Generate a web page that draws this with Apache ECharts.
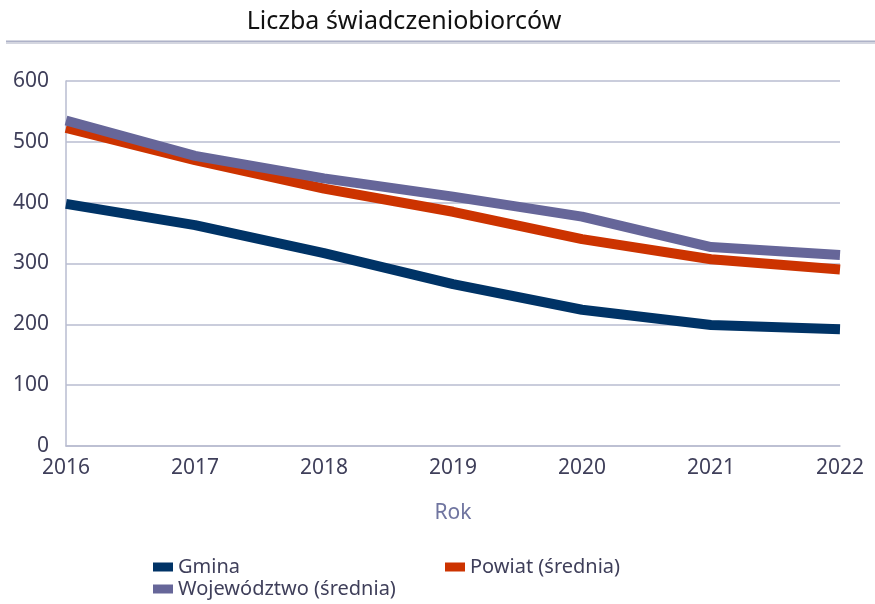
<!DOCTYPE html>
<html>
<head>
<meta charset="utf-8">
<script src="https://cdn.jsdelivr.net/npm/echarts@6/dist/echarts.min.js"></script>
<style>
  html, body { margin: 0; padding: 0; background: #fff; }
  #main { width: 875px; height: 604px; }
</style>
</head>
<body>
<div id="main"></div>
<script>
// dane
var years = ['2016', '2017', '2018', '2019', '2020', '2021', '2022']
var gmina = [398, 363, 317, 266, 224, 199, 192]
var powiat = [523, 470, 423, 385, 340, 307, 290]
var wojewodztwo = [535, 477, 440, 410, 377, 327, 314]

var fontFam = '"Noto Sans", sans-serif'
var textCol = '#3f3f5a'
var gridCol = '#b9bcd0'

var myChart = echarts.init(document.getElementById('main'))

function lineSeries (name, data, color) {
  return {
    name: name,
    type: 'line',
    data: data,
    symbol: 'none',
    smooth: false,
    lineStyle: { width: 10, color: color, cap: 'butt', join: 'round' },
    itemStyle: { color: color }
  }
}

function legendAt (name, left, top) {
  return {
    data: [name],
    left: left,
    top: top,
    itemWidth: 20,
    itemHeight: 9,
    itemGap: 8,
    icon: 'rect',
    textStyle: { fontFamily: fontFam, fontSize: 20, color: textCol }
  }
}

var option = {
  animation: false,
  backgroundColor: '#fff',
  title: {
    text: 'Liczba świadczeniobiorców',
    left: 399,
    top: 4,
    textAlign: 'center',
    textStyle: { fontFamily: fontFam, fontSize: 25, fontWeight: 'normal', color: '#111' }
  },
  // linia pod tytulem
  graphic: [
    { type: 'rect', shape: { x: 6, y: 40, width: 869, height: 4 }, style: { fill: '#d4d6e0' }, silent: true },
    { type: 'rect', shape: { x: 6, y: 41, width: 869, height: 1 }, style: { fill: '#aeb2c8' }, silent: true }
  ],
  grid: { left: 66, right: 35, top: 81, bottom: 158, containLabel: false },
  legend: [
    legendAt('Gmina', 148, 552),
    legendAt('Powiat (średnia)', 440, 552),
    legendAt('Województwo (średnia)', 148, 574)
  ],
  xAxis: {
    type: 'category',
    data: years,
    boundaryGap: false,
    name: 'Rok',
    nameLocation: 'middle',
    nameGap: 57,
    nameTextStyle: { fontFamily: fontFam, fontSize: 21, color: '#7075a0' },
    axisLine: { show: true, lineStyle: { color: gridCol, width: 1.5 } },
    axisTick: { show: false },
    axisLabel: { fontFamily: fontFam, fontSize: 21, color: textCol, margin: 12 },
    splitLine: { show: false }
  },
  yAxis: {
    type: 'value',
    min: 0,
    max: 600,
    interval: 100,
    axisLine: { show: true, lineStyle: { color: gridCol, width: 1.5 } },
    axisTick: { show: false },
    axisLabel: { fontFamily: fontFam, fontSize: 21, color: textCol, margin: 17 },
    splitLine: { show: true, lineStyle: { color: gridCol, width: 1.5 } }
  },
  series: [
    lineSeries('Gmina', gmina, '#003366'),
    lineSeries('Powiat (średnia)', powiat, '#cc3300'),
    lineSeries('Województwo (średnia)', wojewodztwo, '#666699')
  ]
}

myChart.setOption(option)
</script>
</body>
</html>
